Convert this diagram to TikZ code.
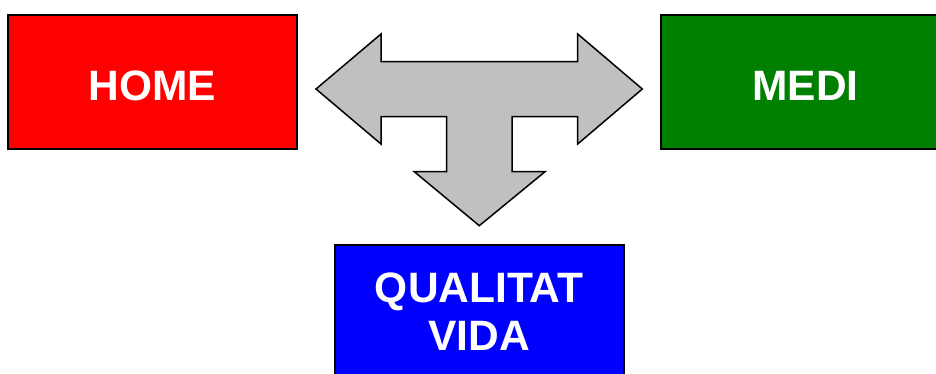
\documentclass[tikz,border=0pt]{standalone}
\usepackage{fontspec}
\setmainfont{Liberation Sans}
\definecolor{boxred}{HTML}{FF0000}
\definecolor{boxgreen}{HTML}{008000}
\definecolor{boxblue}{HTML}{0000FF}
\definecolor{arrowgray}{HTML}{C0C0C0}
\tikzset{
  boxnode/.style={draw=black, line width=2pt, rectangle, minimum width=289pt, minimum height=134pt, inner sep=0pt},
  lbl/.style={text=white, font=\fontsize{42.5}{48.7}\selectfont\bfseries, align=center, inner sep=0pt},
  bigarrow/.style={draw=black, fill=arrowgray, line width=1.5pt, line join=miter}
}
\begin{document}
\begin{tikzpicture}[x=1pt, y=-1pt]
\useasboundingbox (0,0) rectangle (936,374);
\begin{scope}
\clip (0,0) rectangle (936,374);
\node[boxnode, fill=boxred] (home) at (152.5,82) {};
\node[boxnode, fill=boxgreen] (medi) at (805.5,82) {};
\node[boxnode, fill=boxblue] (qual) at (479.2,311.7) {};
\end{scope}
\node[lbl] (homet) at ([yshift=-3.7pt]home.center) {HOME};
\node[lbl] (medit) at ([yshift=-3.7pt]medi.center) {MEDI};
\node[lbl] (qualt) at (qual.center) {QUALITAT\\VIDA};
% T-shaped three-way arrow
\draw[bigarrow]
  (316,89) -- (381,34) -- (381,61.7) -- (577.7,61.7) -- (577.7,34)
  -- (642.3,89) -- (577.7,144) -- (577.7,116.7) -- (512,116.7)
  -- (512,171.7) -- (545,171.7) -- (479.3,225.7) -- (414.3,171.7)
  -- (446.7,171.7) -- (446.7,116.7) -- (381,116.7) -- (381,144) -- cycle;
\end{tikzpicture}
\end{document}
